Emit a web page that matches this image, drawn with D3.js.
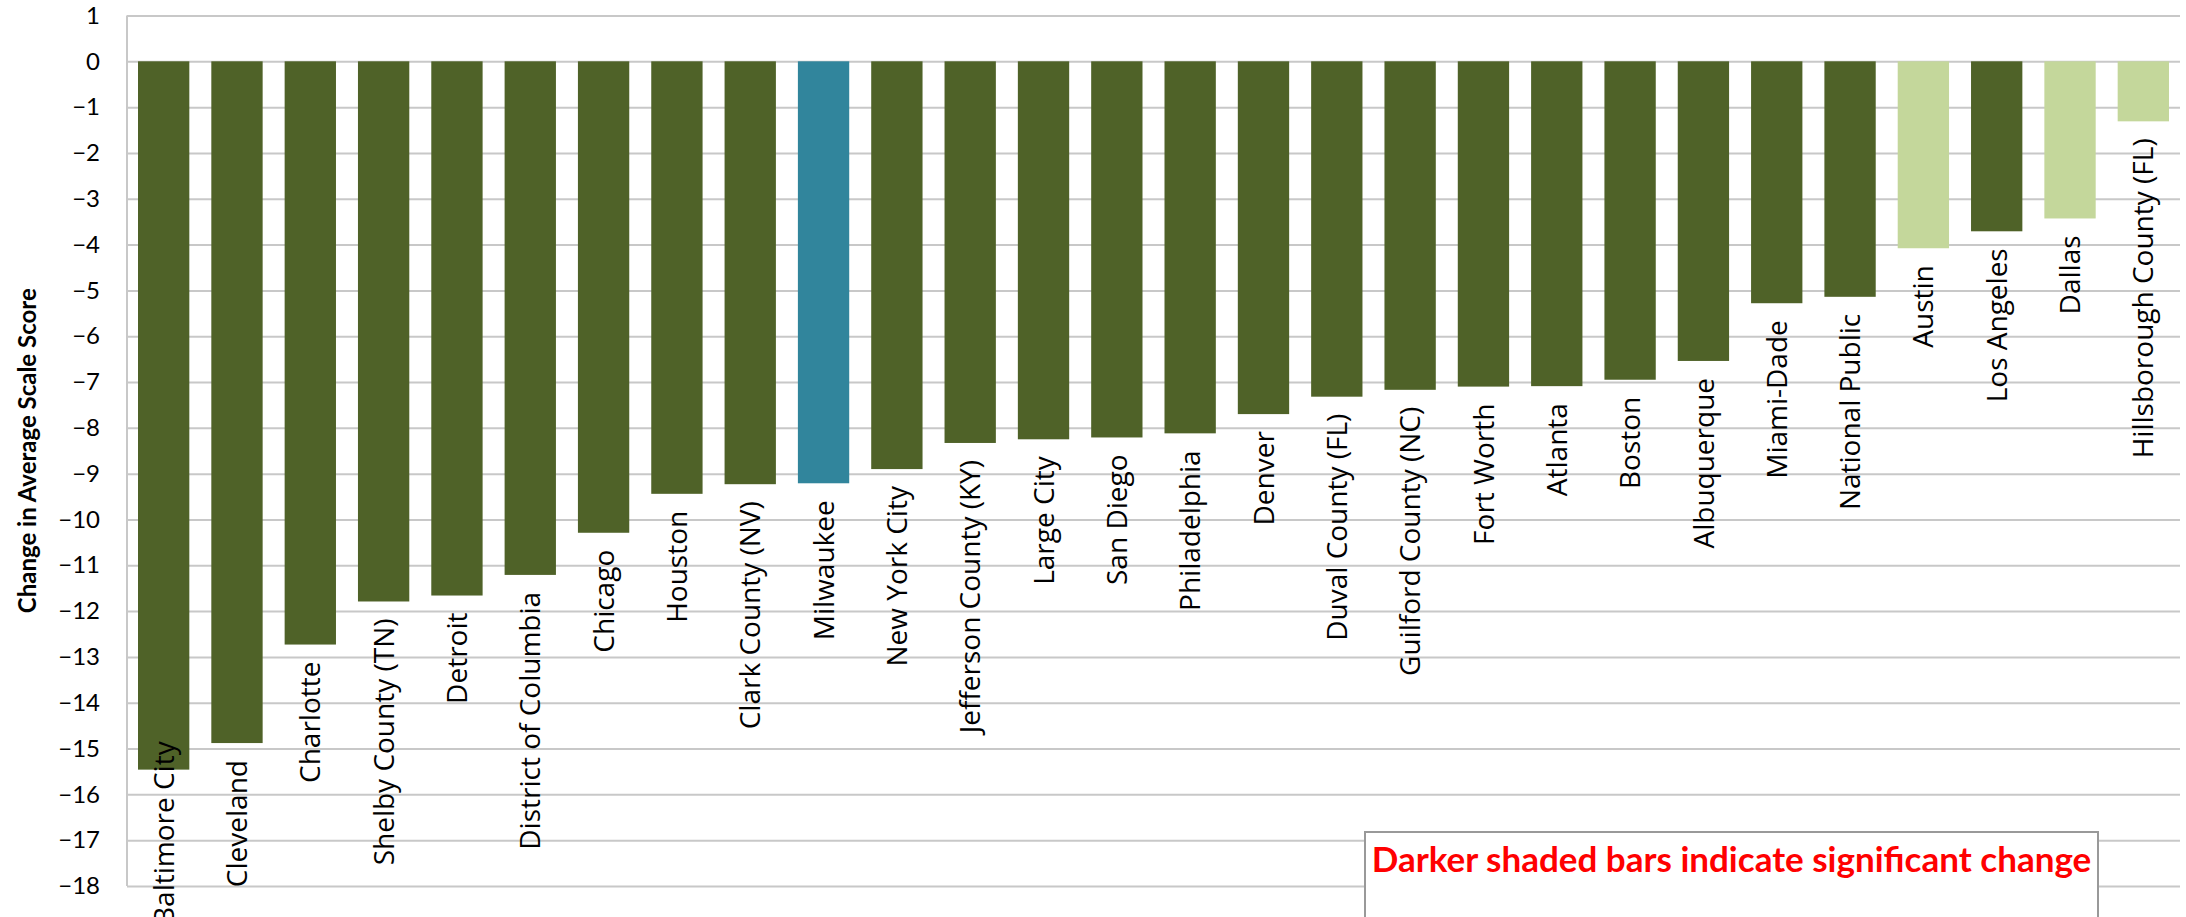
<!DOCTYPE html>
<html>
<head>
<meta charset="utf-8">
<script src="https://cdn.jsdelivr.net/npm/d3@7"></script>
<style>
  body { margin: 0; background: #fff; }
  svg { display: block; }
</style>
</head>
<body>
<svg width="2186" height="917"></svg>
<script>
// données
const districts = ['Baltimore City', 'Cleveland', 'Charlotte', 'Shelby County (TN)', 'Detroit',
  'District of Columbia', 'Chicago', 'Houston', 'Clark County (NV)', 'Milwaukee', 'New York City',
  'Jefferson County (KY)', 'Large City', 'San Diego', 'Philadelphia', 'Denver', 'Duval County (FL)',
  'Guilford County (NC)', 'Fort Worth', 'Atlanta', 'Boston', 'Albuquerque', 'Miami-Dade',
  'National Public', 'Austin', 'Los Angeles', 'Dallas', 'Hillsborough County (FL)'];
const changes = [-15.46, -14.88, -12.73, -11.79, -11.66, -11.21, -10.29, -9.44, -9.23, -9.21, -8.9,
  -8.33, -8.25, -8.21, -8.12, -7.7, -7.32, -7.17, -7.1, -7.09, -6.95, -6.54, -5.28,
  -5.14, -4.08, -3.71, -3.43, -1.31];
const significant = [true, true, true, true, true, true, true, true, true, true, true,
  true, true, true, true, true, true, true, true, true, true, true, true,
  true, false, true, false, false];
const highlighted = 'Milwaukee';
const yTicks = d3.range(1, -19, -1);
const yTitle = 'Change in Average Scale Score';
const note = 'Darker shaded bars indicate significant change';

const svg = d3.select('svg');
const WIDTH = +svg.attr('width');
const HEIGHT = +svg.attr('height');

const plot = { left: 127, right: 2180, top: 15.5, bottom: 886 };

const darkGreen = '#4F6228';
const lightGreen = '#C4D79B';
const teal = '#31859C';
const gridColor = '#C8C8C8';

const rows = districts.map((d, i) => ({ name: d, value: changes[i], sig: significant[i] }));

//-----------------------échelles-----------------------//
const x = d3.scaleBand()
  .domain(districts)
  .range([plot.left, plot.right])
  .paddingInner(0.3)
  .paddingOuter(0.15);

const y = d3.scaleLinear()
  .domain([-18, 1])
  .range([plot.bottom, plot.top]);

//-----------------------grille-----------------------//
const yAxis = svg.append('g')
  .attr('transform', `translate(${plot.left},0)`)
  .call(d3.axisLeft(y)
    .tickValues(yTicks)
    .tickSize(-(plot.right - plot.left))
    .tickPadding(27)
    .tickFormat(d3.format('d')));

yAxis.select('.domain').remove();
yAxis.selectAll('.tick line')
  .attr('stroke', gridColor)
  .attr('stroke-width', 2);
yAxis.selectAll('.tick text')
  .attr('font-family', 'Lato, sans-serif')
  .attr('font-size', 24)
  .attr('fill', '#000');

// bord gauche
svg.append('line')
  .attr('x1', plot.left).attr('x2', plot.left)
  .attr('y1', plot.top).attr('y2', plot.bottom)
  .attr('stroke', gridColor)
  .attr('stroke-width', 2);

//-----------------------barres-----------------------//
svg.append('g')
  .selectAll('rect')
  .data(rows)
  .join('rect')
  .attr('x', d => x(d.name))
  .attr('width', x.bandwidth())
  .attr('y', y(0))
  .attr('height', d => y(d.value) - y(0))
  .attr('fill', d => d.name === highlighted ? teal : (d.sig ? darkGreen : lightGreen));

//-----------------------étiquettes-----------------------//
const labels = svg.append('g')
  .selectAll('text')
  .data(rows)
  .join('text')
  .text(d => d.name)
  .attr('font-family', '"Open Sans", sans-serif')
  .attr('font-size', 28)
  .attr('fill', '#000')
  .attr('text-anchor', 'end')
  .attr('dy', '0.36em');

// si l'étiquette dépasse le bas, on la remonte
labels.attr('transform', function (d) {
  const len = this.getComputedTextLength();
  let yEnd = y(d.value) + 17;
  if (yEnd + len > HEIGHT + 8) yEnd = HEIGHT + 8 - len;
  return `translate(${x(d.name) + x.bandwidth() / 2},${yEnd}) rotate(-90)`;
});

//-----------------------titre axe Y-----------------------//
svg.append('text')
  .text(yTitle)
  .attr('transform', `translate(27,${(plot.top + plot.bottom) / 2}) rotate(-90)`)
  .attr('text-anchor', 'middle')
  .attr('dy', '0.36em')
  .attr('font-family', 'Lato, sans-serif')
  .attr('font-weight', 'bold')
  .attr('font-size', 24)
  .attr('fill', '#000');

//-----------------------note-----------------------//
svg.append('rect')
  .attr('x', 1365)
  .attr('y', 832)
  .attr('width', 733)
  .attr('height', 120)
  .attr('fill', '#fff')
  .attr('stroke', '#999')
  .attr('stroke-width', 2);

svg.append('text')
  .text(note)
  .attr('x', 1365 + 733 / 2)
  .attr('y', 872)
  .attr('text-anchor', 'middle')
  .attr('font-family', 'Lato, sans-serif')
  .attr('font-weight', 'bold')
  .attr('font-size', 35)
  .attr('fill', '#FF0000');
</script>
</body>
</html>
